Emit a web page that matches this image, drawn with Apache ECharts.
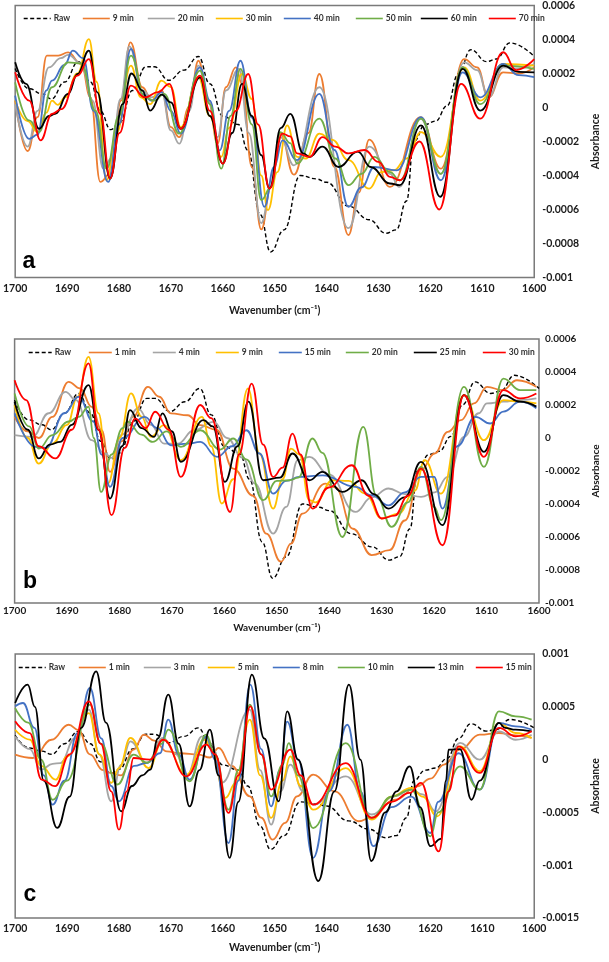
<!DOCTYPE html>
<html><head><meta charset="utf-8">
<script src="https://cdn.jsdelivr.net/npm/echarts@6/dist/echarts.min.js"></script>
<style>html,body{margin:0;padding:0;background:#fff}#chart{width:609px;height:962px}</style>
</head><body><div id="chart"></div>
<script>
// absorbance values are in units of 1e-4
const UNIT = 1e-4;
const xTicks = [1700,1690,1680,1670,1660,1650,1640,1630,1620,1610,1600];

const rawSpectrum = [[1700,2.3],[1697.3,1.1],[1694.8,0.8],[1693,0.5],[1690.5,1.5],[1687.8,2.7],[1685.5,1.5],[1683.6,-0.2],[1681.6,-1.3],[1679.9,-0.9],[1677.4,1.0],[1674.8,2.4],[1673.2,2.4],[1670.4,1.6],[1667.5,2.2],[1664.7,3.0],[1662.5,1.4],[1660,-0.5],[1657,-1.0],[1655.2,-2.5],[1652.8,-6.3],[1650.8,-8.5],[1648.2,-7.2],[1645.1,-4.0],[1642,-4.2],[1640,-4.4],[1635.8,-5.8],[1631.8,-6.6],[1628.6,-7.4],[1626.6,-7.2],[1624.6,-5.5],[1623.2,-2.0],[1621,-1.0],[1619,-0.8],[1616.8,0.1],[1614.6,2.0],[1612.2,3.4],[1609.2,2.7],[1607.3,2.85],[1604.7,3.8],[1600,3.0]];

// ---- panel a ----
const namesA = ['Raw','9 min','20 min','30 min','40 min','50 min','60 min','70 min'];
const a9 = [[1700,0.41],[1697.6,-2.56],[1695.7,-0.57],[1693.9,3.05],[1691.7,3.05],[1689.8,3.24],[1687.3,2.56],[1685.5,0.61],[1683.6,-4.38],[1681.7,-3.89],[1679.6,0.41],[1677.8,3.83],[1675.5,1.19],[1673.7,0.41],[1671.8,1.0],[1670.0,-1.15],[1668.4,-1.74],[1666.5,0.02],[1664.7,2.75],[1662.8,0.41],[1661.0,-2.13],[1659.4,1.19],[1657.5,2.36],[1656.3,1.39],[1654.4,-3.5],[1652.6,-7.17],[1650.7,-4.67],[1648.9,-1.54],[1646.3,-3.95],[1643.5,-1.5],[1641.4,1.97],[1638.5,-3.5],[1635.8,-7.5],[1633.8,-5.0],[1631.8,-1.89],[1627.8,-4.67],[1621.9,-0.57],[1618.0,-3.6],[1613.5,2.85],[1611.0,2.36],[1608.8,0.6],[1606.0,2.07],[1603,2.0],[1600,2.36]];
const a20 = [[1700,0.21],[1697.6,-2.3],[1695.7,-0.2],[1693.5,2.36],[1691.2,2.9],[1689.8,3.1],[1687.3,2.6],[1685.1,0.41],[1683.0,-3.6],[1681.5,-3.0],[1679.7,0.5],[1678.0,3.6],[1675.5,1.0],[1673.7,0.6],[1671.8,0.9],[1670.0,-1.35],[1668.4,-2.13],[1666.5,-0.2],[1664.7,2.46],[1662.8,0.41],[1661.0,-1.74],[1659.4,1.0],[1656.9,2.27],[1655.0,-1.5],[1652.6,-6.8],[1650.7,-4.67],[1648.9,-1.74],[1646.3,-3.4],[1641.4,1.19],[1635.8,-7.1],[1631.8,-2.3],[1627.8,-3.9],[1626,-4.67],[1621.9,-0.66],[1618.0,-3.9],[1613.5,2.66],[1611.0,2.2],[1608.8,0.6],[1606.0,2.36],[1603,2.3],[1600,2.56]];
const a30 = [[1700,0.41],[1697.6,-0.8],[1695.7,-1.45],[1694.0,-0.3],[1692.9,0.4],[1691.8,0.15],[1690.4,0.6],[1688.0,2.0],[1685.8,4.02],[1684.3,1.5],[1682.4,-4.28],[1680.5,-1.5],[1677.7,2.46],[1675.8,0.6],[1674.0,0.2],[1671.8,1.58],[1670.0,1.2],[1668.1,-1.15],[1664.7,1.78],[1662.5,-0.5],[1660.3,-2.9],[1658.8,-1.2],[1656.3,1.97],[1654.4,0.5],[1652.6,-4.0],[1651.3,-6.03],[1649.5,-3.8],[1647.6,-1.05],[1645.7,-2.9],[1644.0,-3.0],[1641.4,-1.54],[1638.9,-1.9],[1635.8,-3.1],[1631.8,-4.77],[1629.5,-3.8],[1627.1,-3.7],[1624.6,-3.0],[1621.8,-1.45],[1618.0,-2.9],[1613.5,2.36],[1610.4,0.41],[1606.0,2.56],[1600,2.46]];
const a40 = [[1700,0.7],[1697.3,-1.84],[1695.7,-1.6],[1694.0,1.0],[1692.9,1.58],[1690.5,2.5],[1688.9,3.34],[1686.9,2.9],[1684.9,-0.2],[1682.1,-4.38],[1680,-1.0],[1677.7,3.44],[1675.5,0.8],[1673.7,0.4],[1671.8,0.9],[1670.0,-0.2],[1668.1,-1.54],[1664.4,2.36],[1662.5,0.41],[1660.6,-2.52],[1658.8,-0.2],[1656.6,2.75],[1654.4,-0.6],[1652.0,-5.84],[1650.1,-3.5],[1648.5,-1.93],[1645.7,-3.1],[1641.4,0.8],[1638.5,-2.5],[1635.8,-5.84],[1633.3,-4.7],[1630.8,-3.5],[1626.5,-3.7],[1621.8,-0.57],[1618.0,-4.28],[1613.8,2.07],[1610.4,0.6],[1606.0,2.56],[1603,1.9],[1600,1.78]];
const a50 = [[1700,1.48],[1697.3,-0.76],[1695.4,-1.45],[1692.9,1.19],[1689.8,2.66],[1687.3,2.6],[1684.5,-0.2],[1682.4,-3.6],[1680,-0.5],[1677.7,3.05],[1675.0,0.6],[1673.2,0.4],[1671.3,0.8],[1668.4,-1.54],[1664.4,2.17],[1662.5,0.2],[1660.3,-3.6],[1658.5,-0.5],[1656.6,2.27],[1654.4,-1.0],[1652.6,-5.45],[1650.7,-4.67],[1648.9,-1.45],[1647.0,-2.1],[1645.7,-3.3],[1641.4,-0.66],[1638.3,-3.0],[1635.8,-4.57],[1633.3,-3.9],[1630.8,-2.9],[1627.8,-3.8],[1625.9,-4.28],[1621.8,-0.66],[1618.0,-3.9],[1613.8,2.36],[1610.4,0.2],[1606.0,2.46],[1600,2.27]];
const a60 = [[1700,2.66],[1697.9,1.39],[1695.4,-1.25],[1693.5,-0.5],[1692.3,-0.37],[1689.8,0.8],[1688.0,1.97],[1685.8,3.34],[1684.2,0.9],[1681.7,-4.18],[1679.3,0.2],[1677.6,2.0],[1675.5,1.0],[1674.0,-0.18],[1671.8,0.76],[1670.0,0.3],[1668.1,-1.25],[1664.4,1.78],[1662.5,-0.5],[1660.0,-3.3],[1658.2,-1.5],[1656.3,1.39],[1654.4,-0.5],[1652.6,-2.8],[1651.0,-4.77],[1648.8,-1.2],[1647.0,-0.37],[1644.5,-2.7],[1643.3,-2.9],[1640.8,-2.3],[1637.7,-3.5],[1634.0,-2.6],[1631.5,-3.5],[1627.8,-4.47],[1625.9,-4.57],[1621.8,-1.05],[1618.1,-5.25],[1613.8,2.27],[1610.4,-0.18],[1606.0,2.46],[1603,2.1],[1600,2.07]];
const a70 = [[1700,2.07],[1697.3,0.41],[1695.1,-1.93],[1692.9,-0.37],[1691.1,-0.1],[1688.0,1.87],[1685.8,2.85],[1683.6,-0.37],[1681.7,-4.18],[1679.9,-1.5],[1677.7,1.29],[1675.0,0.6],[1672.5,0.9],[1670.3,1.39],[1668.1,-1.25],[1664.4,1.87],[1662.5,-0.2],[1660.0,-3.3],[1657.5,-0.2],[1655.1,1.97],[1653.2,-1.0],[1651.0,-4.77],[1648.5,-1.54],[1647.0,-1.7],[1645.7,-2.7],[1643.3,-2.9],[1640.8,-1.74],[1638.3,-2.3],[1635.8,-2.7],[1632.7,-2.5],[1630.0,-3.2],[1627.8,-4.08],[1625.9,-4.28],[1622.1,-2.0],[1618.3,-6.0],[1614.1,1.39],[1610.4,-0.66],[1606.0,3.25],[1603.5,2.2],[1600,2.85]];

// ---- panel b ----
const namesB = ['Raw','1 min','4 min','9 min','15 min','20 min','25 min','30 min'];
const b1 = [[1700,1.28],[1697.5,0.4],[1695.4,0.0],[1692.8,1.28],[1689.7,3.4],[1687.5,3.0],[1685.3,1.89],[1683.4,0.47],[1681.8,-2.05],[1679.6,-0.2],[1677.4,1.28],[1674.6,3.1],[1672.4,2.5],[1670.2,1.49],[1667,1.38],[1664.6,0.78],[1661.5,0.5],[1658.3,-1.85],[1654.5,-3.5],[1652,-5.8],[1649.2,-7.5],[1647.3,-6.4],[1645.1,-4.58],[1640.7,-2.76],[1638.8,-3.0],[1635.5,-5.5],[1631.9,-7.1],[1628.5,-6.8],[1625.6,-5.0],[1622.5,-1.95],[1619.9,-0.94],[1617.4,0.37],[1614.9,1.08],[1612.4,2.1],[1609.9,3.1],[1607,2.9],[1604.2,3.5],[1600.5,3.1]];
const b4 = [[1700,0.17],[1696.6,0.07],[1693.5,1.5],[1690.3,2.8],[1688.3,2.3],[1685.3,-0.13],[1682.8,-0.94],[1681.5,-1.2],[1679.5,0.2],[1676.5,1.79],[1674,0.8],[1671.5,-0.34],[1668.9,-0.34],[1665.8,0.47],[1662,0.98],[1659.5,0.0],[1656.5,-1.2],[1654.2,-2.76],[1650.7,-5.79],[1648.2,-4.18],[1646,-1.34],[1643.8,-1.14],[1640.1,-2.2],[1635,-4.48],[1631.9,-3.6],[1628.7,-3.06],[1625.6,-3.4],[1622.5,-3.57],[1619.9,-3.3],[1617.4,-2.36],[1614.3,0.07],[1611.5,1.5],[1609.9,2.1],[1606.8,2.2],[1603.6,2.3],[1600.5,2.4]];
const b9 = [[1700,2.0],[1697.5,0.0],[1695.4,-1.55],[1692.8,-0.34],[1690,0.8],[1688,2.5],[1685.9,4.92],[1684.0,1.5],[1682.2,-2.76],[1680,0.0],[1677.8,2.7],[1675.8,1.3],[1674,0.07],[1671.5,0.78],[1668.3,-1.34],[1664.3,1.28],[1662.5,-0.5],[1660.5,-3.97],[1658.3,-2.5],[1655.5,3.0],[1653.3,-0.94],[1650.7,-4.28],[1648.9,-2.5],[1647.3,-0.64],[1645.7,-1.0],[1643.8,-3.77],[1642.6,-3.9],[1639.4,-2.56],[1636.3,-2.6],[1633.1,-3.37],[1630,-4.88],[1626.8,-4.58],[1623.7,-3.2],[1621.8,-1.34],[1618.7,-3.37],[1614.3,2.6],[1610.5,-0.13],[1606.8,2.3],[1603.6,2.2],[1600.5,2.1]];
const b15 = [[1700,1.49],[1696,-0.54],[1694,-0.6],[1690.5,1.5],[1687.8,2.5],[1685,1.0],[1683.4,-1.0],[1681.8,-2.96],[1679.4,0.0],[1675.2,1.28],[1672.8,0.6],[1670.2,-0.44],[1667,-0.34],[1664.6,-0.24],[1661.4,-1.14],[1658.5,-0.5],[1655.8,0.47],[1653.3,-0.94],[1650.7,-3.37],[1648.2,-2.6],[1645.7,-2.36],[1641.3,-2.26],[1635,-2.96],[1631.9,-3.47],[1628.7,-4.08],[1625.6,-3.3],[1622.5,-2.36],[1620,-2.36],[1618.4,-4.28],[1615.6,-0.5],[1612.1,1.28],[1609.3,0.88],[1606.8,1.6],[1603.6,2.2],[1600.5,1.8]];
const b20 = [[1700,2.7],[1697.2,0.7],[1695.4,-0.64],[1692.8,0.17],[1689.7,1.0],[1687.8,1.28],[1685.9,1.89],[1684.9,0.0],[1683.5,-3.27],[1681.5,-1.0],[1679.4,0.6],[1678.5,1.0],[1675.8,0.2],[1673.7,-0.24],[1671,0.4],[1668.3,-0.54],[1664.6,0.47],[1660.8,-0.7],[1658.3,-0.03],[1655.8,-1.3],[1652.6,-3.77],[1650,-2.6],[1647.6,-2.56],[1645.9,-2.4],[1643.2,-0.03],[1641.3,-0.9],[1637.5,-6.0],[1633.5,0.68],[1631,-3.5],[1628.1,-5.39],[1625,-3.9],[1622.5,-1.75],[1620,-4.18],[1618.7,-4.98],[1614.3,3.1],[1610.5,-1.75],[1606.8,3.6],[1603.6,2.9],[1600.5,2.9]];
const b25 = [[1700,2.2],[1697.5,0.5],[1695.4,-1.24],[1693.3,-0.4],[1691.3,-0.24],[1689.1,0.8],[1685.9,3.2],[1684.0,0.5],[1681.8,-3.67],[1679.5,-0.5],[1678,1.69],[1675.8,0.6],[1673.4,0.07],[1671.8,1.49],[1670,0.4],[1668.3,-1.44],[1664,1.08],[1662.2,0.7],[1659.9,-2.66],[1657.5,-0.5],[1655.4,2.2],[1652.6,-2.56],[1649.4,-2.4],[1647,-0.94],[1643.8,-2.56],[1641.3,-2.05],[1637.5,-3.27],[1633.8,-2.56],[1631.5,-3.4],[1628.7,-4.28],[1625.6,-3.6],[1622.5,-1.45],[1618.4,-5.28],[1614.3,2.6],[1610.5,-0.84],[1606.8,2.6],[1603.6,2.2],[1600.5,1.9]];
const b30 = [[1700,3.5],[1697.8,2.3],[1695.4,-0.5],[1692.2,-1.24],[1689.1,0.5],[1685.9,4.52],[1684.0,0.5],[1681.5,-4.68],[1679,-0.6],[1677,1.18],[1675,0.6],[1673.2,1.59],[1670.6,0.5],[1668.3,-2.36],[1664.6,2.0],[1662.5,1.2],[1658.9,-4.48],[1657.2,-1.0],[1654.8,3.3],[1652.6,-0.4],[1650.7,-2.36],[1648.9,-1.8],[1647,0.27],[1645.5,-1.0],[1643.2,-4.28],[1640.1,-3.0],[1635.7,-1.65],[1632.5,-3.5],[1630,-4.88],[1627.5,-4.7],[1625,-3.5],[1622.5,-1.85],[1618.4,-6.5],[1614.3,2.6],[1610.5,-1.14],[1606.8,2.9],[1603.6,2.4],[1600.5,2.7]];

// ---- panel c ----
const namesC = ['Raw','1 min','3 min','5 min','8 min','10 min','13 min','15 min'];
const c1 = [[1700,0.47],[1696.6,0.15],[1693,1.88],[1689.7,3.3],[1687.8,2.8],[1685.6,0.5],[1683.1,-1.0],[1681.5,-1.27],[1679.6,-1.5],[1677.2,0.95],[1675.2,2.36],[1673.2,1.8],[1670.8,0.78],[1668.3,0.6],[1664.6,0.47],[1662.5,0.2],[1660.8,1.1],[1658.3,-0.6],[1654.8,-3.48],[1652.6,-5.5],[1650.4,-7.58],[1648,-6.0],[1645.7,-3.48],[1642.6,-1.43],[1638.5,-3.0],[1633.8,-5.84],[1631.5,-5.5],[1626.8,-3.8],[1622.5,-2.53],[1620,-1.8],[1617.4,-0.47],[1614.3,0.95],[1610.5,2.36],[1606.8,2.52],[1603.6,2.3],[1600.5,2.05]];
const c3 = [[1700,2.2],[1697.2,1.0],[1695,-0.95],[1692.8,-0.4],[1691.3,-0.33],[1688.5,2.0],[1685.8,4.73],[1683.8,0.5],[1681.5,-3.95],[1679.6,-0.5],[1677.8,1.72],[1674.6,-0.33],[1671.5,2.05],[1669,0.5],[1667,-1.58],[1664,2.2],[1662.2,1.5],[1660.2,-2.2],[1654.8,4.73],[1652.8,-1.0],[1650.7,-6.16],[1648.9,-3.0],[1647,-0.48],[1644.5,-3.0],[1642.6,-4.27],[1636.3,-1.58],[1631.3,-5.2],[1627,-3.48],[1623.7,-2.84],[1621.5,-3.3],[1619,-4.9],[1614.3,1.58],[1610.5,0.0],[1606.8,2.68],[1603.6,1.88],[1600.5,2.36]];
const c5 = [[1700,2.83],[1697.2,1.9],[1695,-0.6],[1692.2,-1.9],[1690,0.3],[1685.8,4.4],[1683.8,0.5],[1681.5,-2.2],[1680,-0.8],[1677.8,2.05],[1674.3,-0.8],[1671.5,1.88],[1667,-1.43],[1663.5,1.88],[1662.2,1.0],[1659.5,-3.63],[1657.5,-2.2],[1654.8,3.78],[1652.8,-1.5],[1650.7,-5.52],[1648.5,-2.0],[1647,0.3],[1645,-2.5],[1642.6,-4.74],[1636.3,-0.8],[1631.3,-5.68],[1627.5,-3.5],[1623.7,-2.68],[1621.5,-3.5],[1618.7,-5.37],[1614.3,1.26],[1610.5,-1.1],[1606.8,3.47],[1603.6,2.52],[1600.5,2.05]];
const c8 = [[1700,5.04],[1698.5,5.36],[1696.3,3.0],[1694.5,-1.5],[1692.8,-4.27],[1690.5,-2.0],[1688,2.5],[1685.6,6.78],[1683.4,2.0],[1681.5,-2.5],[1680,-3.95],[1677.1,-0.6],[1674.6,-0.3],[1672.1,0.6],[1670.5,3.78],[1668.5,0.5],[1666.4,-1.9],[1663.2,2.2],[1661.5,0.0],[1658.9,-7.9],[1657,-2.0],[1654.7,7.1],[1652.6,1.0],[1650.7,-4.43],[1649,-1.0],[1647.6,3.6],[1645.5,0.0],[1642.6,-9.3],[1639.5,-3.0],[1636,3.3],[1633.5,-3.0],[1631,-8.2],[1627.5,-4.5],[1623.7,-3.5],[1620,-6.95],[1618.5,-4.0],[1614.6,0.6],[1610.5,-2.84],[1606.8,3.47],[1603.6,3.15],[1600.5,2.83]];
const c10 = [[1700,4.88],[1697.5,3.5],[1695,0.0],[1692.8,-3.8],[1690,-2.0],[1685.6,5.2],[1683.5,1.5],[1680.3,-2.36],[1677.2,0.47],[1674.6,-0.3],[1671.8,1.5],[1670.5,2.83],[1666.4,-2.05],[1663.2,2.36],[1661.5,0.5],[1658.9,-4.74],[1657,-1.0],[1654.8,5.2],[1652.6,0.5],[1650.7,-3.48],[1648.5,-0.5],[1647.3,1.56],[1645.5,-1.5],[1642.6,-6.48],[1636.3,1.56],[1631.3,-5.52],[1627.5,-3.5],[1623.7,-2.84],[1620,-7.27],[1618.5,-5.0],[1614.3,-0.64],[1610.5,-2.84],[1606.8,4.56],[1603.6,4.1],[1600.5,3.78]];
const c13 = [[1700,5.36],[1697.6,7.1],[1696.2,5.0],[1694.5,-2.0],[1691.9,-6.47],[1689.5,-3.5],[1687.3,3.0],[1684.4,8.36],[1682.5,3.5],[1679.6,-4.9],[1677.5,-2.5],[1675.5,-1.5],[1674,-0.95],[1672.5,2.0],[1670.5,6.15],[1668.5,1.5],[1666.4,-4.43],[1664.5,-1.0],[1662.5,2.83],[1660.8,-1.5],[1658.7,-9.3],[1657,-4.0],[1654.4,8.04],[1652,2.0],[1649.2,-3.95],[1647.6,4.56],[1645.5,0.0],[1641.6,-11.5],[1638.5,-3.0],[1635.7,7.1],[1633.5,0.0],[1631.4,-9.6],[1628.7,-5.0],[1626.5,-3.0],[1624,-0.64],[1622,-4.5],[1620,-8.2],[1618,-7.5],[1617,-2.0],[1616.5,0.94],[1614.3,1.0],[1612.1,-3.8],[1610.5,-2.0],[1606.8,3.47],[1605.6,3.0],[1603.6,2.83],[1600.5,2.68]];
const c15 = [[1700,3.63],[1697.2,2.5],[1694.9,-1.9],[1692.3,-2.52],[1689.5,0.5],[1685.8,5.52],[1683.5,1.5],[1681.5,-3.0],[1680,-6.64],[1678.5,-3.0],[1677.2,0.15],[1674,0.0],[1671.5,1.88],[1667,-1.58],[1663.2,1.42],[1661.5,0.5],[1658.9,-5.05],[1657,-1.5],[1654.7,5.04],[1652.6,0.5],[1650.7,-2.84],[1647,0.94],[1645,-1.5],[1642.6,-4.27],[1636.3,-0.33],[1631.3,-5.52],[1627.5,-4.0],[1624,-3.16],[1621.8,-2.2],[1618.4,-8.7],[1616.5,-3.0],[1614.6,1.26],[1610.5,-1.26],[1606.8,3.0],[1603.6,2.2],[1600.5,2.68]];

const colors = ['#000000','#ED7D31','#A5A5A5','#FFC000','#4472C4','#70AD47','#000000','#FF0000'];

const panels = [
  {key:'a', names:namesA, data:[rawSpectrum,a9,a20,a30,a40,a50,a60,a70], yMin:-0.001, yMax:0.0006, yInt:0.0002,
   grid:{left:12, top:5, width:536, height:272.5}, legendY:18, legendX:[23,82,147,215,283,355,420,488], legLen:27,
   letter:[29,262], xMargin:6, xNameGap:33, yMargin:8, yNameGap:57, fs:10.5},
  {key:'b', names:namesB, data:[rawSpectrum,b1,b4,b9,b15,b20,b25,b30], yMin:-0.001, yMax:0.0006, yInt:0.0002,
   grid:{left:12, top:339, width:531, height:264}, legendY:352, legendX:[28,88,152,215,278,345,413,482], legLen:23,
   letter:[30,582], xMargin:3, xNameGap:25, yMargin:6, yNameGap:57, fs:10},
  {key:'c', names:namesC, data:[rawSpectrum,c1,c3,c5,c8,c10,c13,c15], yMin:-0.0015, yMax:0.001, yInt:0.0005,
   grid:{left:12, top:654, width:530, height:264}, legendY:667, legendX:[18,78,143,207,272,337,407,475], legLen:27,
   letter:[30,895], xMargin:5, xNameGap:30, yMargin:8, yNameGap:61, fs:10.5}
];

const FONT = 'Lato, "Liberation Sans", sans-serif';
const grids=[], xAxes=[], yAxes=[], series=[], legends=[], graphics=[];
panels.forEach((p, pi) => {
  grids.push(Object.assign({show:true, borderColor:'#7a7a7a', borderWidth:1.5, containLabel:false}, p.grid));
  xAxes.push({type:'value', gridIndex:pi, inverse:true, min:xTicks[xTicks.length-1], max:xTicks[0], interval:10,
    axisLine:{show:false}, axisTick:{show:false}, splitLine:{show:false},
    axisLabel:{margin:p.xMargin, fontSize:p.fs, fontWeight:'bold', color:'#1a1a1a', fontFamily:FONT,
      formatter: v => String(v)},
    name:'Wavenumber (cm\u207B\u00B9)', nameLocation:'middle', nameGap:p.xNameGap,
    nameTextStyle:{fontSize:p.fs, fontWeight:'bold', color:'#1a1a1a', fontFamily:FONT, align:'center', verticalAlign:'middle'}});
  yAxes.push({type:'value', gridIndex:pi, position:'right', min:p.yMin, max:p.yMax, interval:p.yInt,
    axisLine:{show:false}, axisTick:{show:false}, splitLine:{show:false},
    axisLabel:{margin:p.yMargin, fontSize:p.fs, fontWeight:'bold', color:'#1a1a1a', fontFamily:FONT,
      formatter: v => Math.abs(v) < 1e-12 ? '0' : String(parseFloat(v.toPrecision(4)))},
    name:'Absorbance', nameLocation:'middle', nameRotate:90, nameGap:p.yNameGap,
    nameTextStyle:{fontSize:p.fs, fontWeight:'bold', color:'#1a1a1a', fontFamily:FONT, align:'center', verticalAlign:'middle'}});
  p.names.forEach((nm, si) => {
    const sname = p.key + '|' + nm;
    series.push({type:'line', name:sname, xAxisIndex:pi, yAxisIndex:pi, symbol:'none', smooth:0.45, smoothMonotone:'x',
      z: 2 + si, silent:true,
      lineStyle:{color:colors[si], width: si===0 ? 1.4 : 1.8, type: si===0 ? [4,2.5] : 'solid'},
      itemStyle:{color:colors[si]},
      data: p.data[si].map(pt => [pt[0], pt[1]*UNIT])});
    legends.push({data:[sname], left:p.legendX[si], top:p.legendY-4, padding:0, itemGap:0,
      itemWidth:p.legLen, itemHeight:8, selectedMode:false,
      itemStyle:{opacity:0, borderWidth:0},
      lineStyle:{width: si===0 ? 1.4 : 1.6},
      formatter: s => s.split('|')[1],
      textStyle:{fontSize:8.5, fontWeight:'bold', color:'#333', fontFamily:FONT, padding:[0,0,0,-2]}});
  });
  graphics.push({type:'text', x:p.letter[0], y:p.letter[1], z:100,
    style:{text:p.key, font:'bold 23px "Liberation Sans", Arial, sans-serif', fill:'#000',
      align:'center', verticalAlign:'middle', textAlign:'center', textVerticalAlign:'middle'}});
});

const chart = echarts.init(document.getElementById('chart'), null, {renderer:'canvas'});
chart.setOption({
  animation:false,
  backgroundColor:'#fff',
  grid:grids, xAxis:xAxes, yAxis:yAxes, series:series, legend:legends, graphic:graphics
});
</script></body></html>
